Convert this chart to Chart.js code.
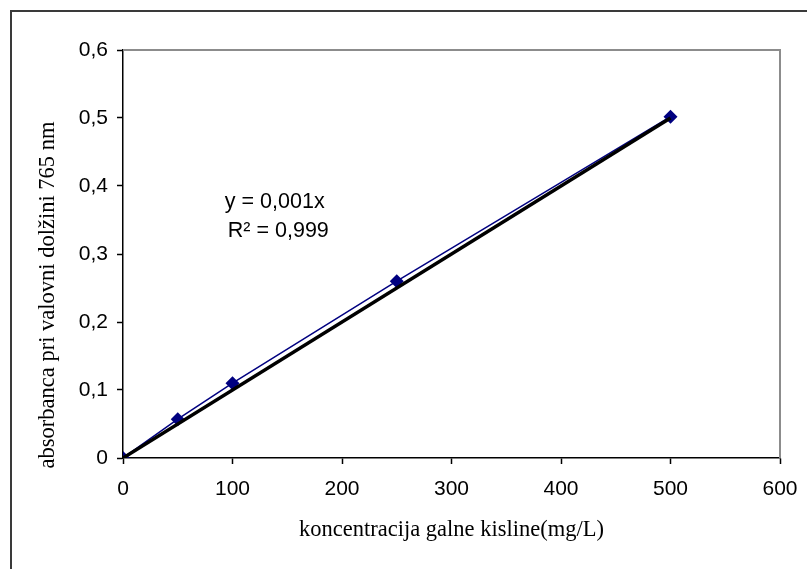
<!DOCTYPE html>
<html>
<head>
<meta charset="utf-8">
<script src="https://cdn.jsdelivr.net/npm/chart.js@4"></script>
<style>
  html, body { margin: 0; padding: 0; background: #fff; }
  canvas { display: block; }
</style>
</head>
<body>
<canvas id="graf" width="807" height="569"></canvas>
<script>
// meritve (umeritvena krivulja galne kisline)
const koncentracija = [0, 50, 100, 250, 500];
const absorbanca = [0, 0.057, 0.110, 0.260, 0.502];

// linearni trend y = 0,001x
const trendX = [0, 500];
const trendY = [0, 0.5];

const xTicks = [0, 100, 200, 300, 400, 500, 600];
const yTicks = [0, 0.1, 0.2, 0.3, 0.4, 0.5, 0.6];

const xNaslov = 'koncentracija galne kisline(mg/L)';
const yNaslov = 'absorbanca pri valovni dolžini 765 nm';
const enacba = ['y = 0,001x', 'R\u00B2 = 0,999'];
const enacbaPoz = { x: 93, y: 0.368 };

const tocke = koncentracija.map((x, i) => ({ x: x, y: absorbanca[i] }));
const trend = trendX.map((x, i) => ({ x: x, y: trendY[i] }));

const serif = '"Liberation Serif", "Times New Roman", serif';
const sans = '"Liberation Sans", Arial, sans-serif';

const okvir = {
    id: 'okvir',
    beforeDraw(chart) {
        const c = chart.ctx;
        c.save();
        c.fillStyle = '#fff';
        c.fillRect(0, 0, chart.width, chart.height);
        c.strokeStyle = '#3a3a3a';
        c.lineWidth = 2;
        c.beginPath();
        c.moveTo(11, chart.height);
        c.lineTo(11, 11);
        c.lineTo(chart.width, 11);
        c.stroke();
        // naslov y osi (Excel ga centrira na celoten graf)
        c.translate(48, 295);
        c.rotate(-Math.PI / 2);
        c.fillStyle = '#000';
        c.font = '22.5px ' + serif;
        c.textAlign = 'center';
        c.textBaseline = 'middle';
        c.fillText(yNaslov, 0, 0);
        c.restore();
    },
    beforeDatasetsDraw(chart) {
        const a = chart.chartArea;
        const c = chart.ctx;
        c.save();
        c.strokeStyle = '#8c8c8c';
        c.lineWidth = 2;
        c.beginPath();
        c.moveTo(a.left, a.top);
        c.lineTo(a.right, a.top);
        c.lineTo(a.right, a.bottom);
        c.stroke();
        c.restore();
    },
    afterDatasetsDraw(chart) {
        const c = chart.ctx;
        const px = chart.scales.x.getPixelForValue(enacbaPoz.x);
        const py = chart.scales.y.getPixelForValue(enacbaPoz.y);
        c.save();
        c.fillStyle = '#000';
        c.font = '21.5px ' + sans;
        c.textBaseline = 'alphabetic';
        c.fillText(enacba[0], px, py);
        c.fillText(enacba[1], px + 3, py + 29);
        c.restore();
    }
};

const tickFont = { family: sans, size: 21 };

new Chart(document.getElementById('graf'), {
    type: 'scatter',
    data: {
        datasets: [{
            label: 'trend',
            data: trend,
            showLine: true,
            borderColor: '#000',
            borderWidth: 3.5,
            pointRadius: 0,
            order: 0
        }, {
            label: 'absorbanca',
            data: tocke,
            showLine: true,
            borderColor: '#000080',
            backgroundColor: '#000080',
            borderWidth: 1.5,
            pointStyle: 'rectRot',
            pointRadius: 7,
            pointBorderWidth: 0,
            order: 1
        }]
    },
    options: {
        responsive: false,
        animation: false,
        devicePixelRatio: 1,
        layout: { padding: { left: 0, top: 50, right: 27, bottom: 0 } },
        plugins: {
            legend: { display: false },
            tooltip: { enabled: false }
        },
        scales: {
            x: {
                type: 'linear',
                min: 0,
                max: 600,
                afterFit: s => { s.height = 111; s.paddingRight = 0; s.paddingLeft = 0; },
                afterBuildTicks: s => { s.ticks = xTicks.map(v => ({ value: v })); },
                grid: { drawOnChartArea: false, color: '#000', tickLength: 6, tickWidth: 1.5 },
                border: { color: '#000', width: 1.5 },
                ticks: { color: '#000', font: tickFont, padding: 13, maxRotation: 0 },
                title: {
                    display: true,
                    text: xNaslov,
                    color: '#000',
                    font: { family: serif, size: 22.5 },
                    padding: { top: 0, bottom: 25 }
                }
            },
            y: {
                type: 'linear',
                min: 0,
                max: 0.6,
                afterFit: s => { s.width = 123; },
                afterBuildTicks: s => { s.ticks = yTicks.map(v => ({ value: v })); },
                grid: { drawOnChartArea: false, color: '#000', tickLength: 6, tickWidth: 1.5 },
                border: { color: '#000', width: 1.5 },
                ticks: {
                    color: '#000',
                    font: tickFont,
                    padding: 9,
                    callback: v => v === 0 ? '0' : v.toFixed(1).replace('.', ',')
                },
                title: { display: false }
            }
        }
    },
    plugins: [okvir]
});
</script>
</body>
</html>
